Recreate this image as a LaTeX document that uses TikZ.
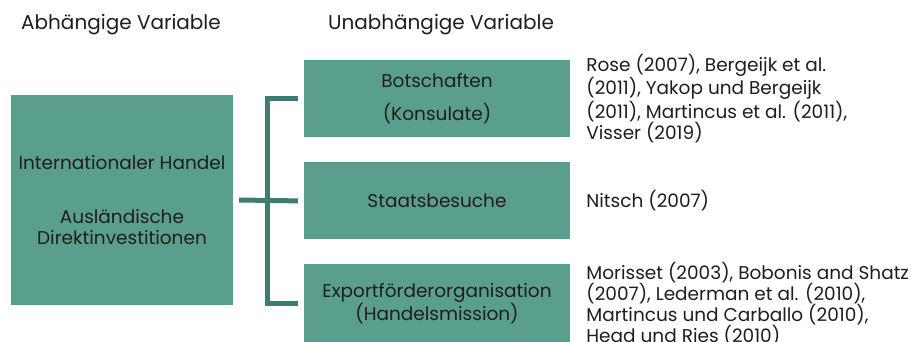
\documentclass[tikz,border=0pt]{standalone}
\usepackage{fontspec}
\setmainfont{Poppins}
\usetikzlibrary{positioning}
\definecolor{boxteal}{RGB}{90,158,142}
\definecolor{bracketteal}{RGB}{62,125,112}
\definecolor{textdark}{RGB}{30,30,30}

\begin{document}
\begin{tikzpicture}[x=1pt,y=-1pt,node distance=25pt,text=textdark,
      every node/.style={font=\fontsize{18.5}{21}\selectfont},
      var box/.style={rectangle,fill=boxteal,minimum width=266pt,minimum height=77pt,align=center,inner sep=0pt},
      ref text/.style={anchor=west,align=left,inner sep=0pt},
      header/.style={inner sep=0pt,font=\fontsize{20}{24}\selectfont},
      bracket/.style={draw=bracketteal,line width=5pt}]
      \useasboundingbox (0,0) rectangle (914,342);

      \node[header] (kopfa) at (121,25) {Abhängige Variable};
      \node[header] (kopfu) at (441,25) {Unabhängige Variable};

      \node[var box,minimum width=222pt,minimum height=210pt] (handel) at (122,200)
        {Internationaler Handel\\[33pt]Ausländische\\Direktinvestitionen};

      \node[var box] (bot) at (437,98.5) {Botschaften\\[12pt](Konsulate)};
      \node[var box] (staat) [below=25pt of bot] {Staatsbesuche};
      \node[var box,minimum height=80pt] (export) [below=24pt of staat] {Exportförderorganisation\\(Handelsmission)};

      \node[ref text] (litbot) [right=16pt of bot]
        {Rose (2007), Bergeijk et al.\\(2011), Yakop und Bergeijk\\(2011), Martincus et al. (2011),\\Visser (2019)};
      \node[ref text] (litstaat) [right=16pt of staat] {Nitsch (2007)};
      \node[ref text] (litexport) [right=16pt of export]
        {Morisset (2003), Bobonis and Shatz\\(2007), Lederman et al. (2010),\\Martincus und Carballo (2010),\\Head und Ries (2010)};

      \coordinate (knick) at (267,0);
      \draw[bracket] ([xshift=6pt]handel.east) -- ([xshift=-6pt]staat.west);
      \draw[bracket] ([xshift=-6pt]bot.west) -| (knick |- export.west) -- ([xshift=-6pt]export.west);
\end{tikzpicture}
\end{document}
